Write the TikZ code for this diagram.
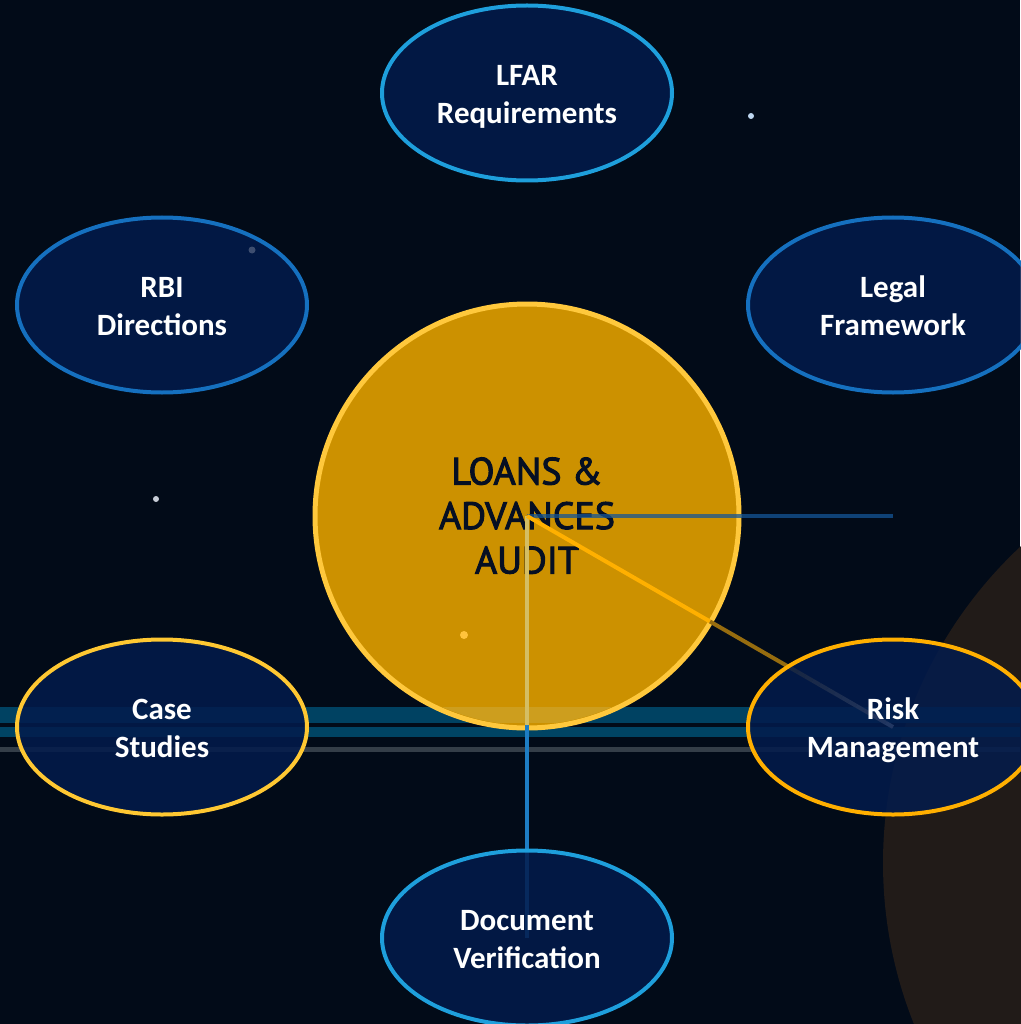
\documentclass[tikz,border=0pt]{standalone}
\usepackage{fontspec}
\setmainfont{Carlito}
\newfontfamily\titlefont[FakeBold=2.6]{PT Sans}
\usetikzlibrary{shapes.geometric,calc}

% palette
\definecolor{bgc}{RGB}{2,11,24}
\definecolor{glowc}{RGB}{33,27,24}
\definecolor{bandA}{RGB}{0,66,98}
\definecolor{bandB}{RGB}{0,68,100}
\definecolor{bandG}{RGB}{52,62,72}
\definecolor{bandlit}{RGB}{205,158,30}
\definecolor{hubfill}{RGB}{204,145,0}
\definecolor{hubline}{RGB}{255,200,60}
\definecolor{hubtext}{RGB}{5,15,35}
\definecolor{ellfill}{RGB}{3,27,76}
\definecolor{blueA}{RGB}{30,159,220}
\definecolor{blueB}{RGB}{21,112,191}
\definecolor{yelC}{RGB}{255,200,50}
\definecolor{orgR}{RGB}{255,175,0}
\definecolor{hcol}{RGB}{20,85,150}
\definecolor{vcol}{RGB}{30,125,195}
\definecolor{vpale}{RGB}{212,190,100}
\definecolor{dorange}{RGB}{255,176,0}
\definecolor{dbrown}{RGB}{150,108,15}
\definecolor{dgray}{RGB}{215,215,225}
\definecolor{speckA}{RGB}{190,215,240}
\definecolor{speckB}{RGB}{200,205,215}
\definecolor{speckC}{RGB}{62,78,112}
\definecolor{speckD}{RGB}{255,195,60}

\pgfdeclarelayer{bg}
\pgfdeclarelayer{core}
\pgfdeclarelayer{mid}
\pgfsetlayers{bg,core,mid,main}

\tikzset{
  topic/.style={ellipse, minimum width=290pt, minimum height=175pt, inner sep=0pt,
    line width=4pt, fill=ellfill, fill opacity=0.85, text opacity=1, text=white,
    font=\bfseries\fontsize{31}{38}\selectfont, align=center,
    text height=66pt, text depth=5pt},
  hub/.style={circle, minimum size=424pt, inner sep=0pt, fill=hubfill, draw=hubline,
    line width=5pt, text=hubtext, font=\titlefont\fontsize{38}{44.5}\selectfont,
    align=center, text height=117pt, text depth=2pt},
  hconn/.style={draw=hcol, draw opacity=0.75, line width=4pt},
  vconn/.style={draw=vcol, line width=4pt},
  dconn/.style={line width=4pt}
}

\begin{document}
\begin{tikzpicture}[x=1pt,y=-1pt]
\useasboundingbox (0,0) rectangle (1020,1024);

% backdrop, glow and horizontal bands
\begin{pgfonlayer}{bg}
  \fill[bgc] (0,0) rectangle (1020,1024);
  \fill[glowc] (1316,863) circle[radius=433pt];
  \fill[bandA] (0,707) rectangle (1020,723);
  \fill[bandB] (0,727) rectangle (1020,737);
  \fill[bandG] (0,747) rectangle (1020,752);
  \fill[speckA] (751,116) circle[radius=3pt];
  \fill[speckB] (156,499) circle[radius=3pt];
\end{pgfonlayer}

% central topic
\begin{pgfonlayer}{core}
  \node[hub] (c) at (527,516) {LOANS \&\\ADVANCES\\AUDIT};
  \begin{scope}
    \clip (c.center) circle[radius=209pt];
    \fill[bandlit] (0,707) rectangle (1020,723);
  \end{scope}
\end{pgfonlayer}

% surrounding topics
\node[topic, draw=blueA] (lfar)  at (527,93)  {LFAR\\Requirements};
\node[topic, draw=blueB] (rbi)   at (162,305) {RBI\\Directions};
\node[topic, draw=blueB] (legal) at (893,305) {Legal\\Framework};
\node[topic, draw=yelC]  (case)  at (162,727) {Case\\Studies};
\node[topic, draw=orgR]  (risk)  at (893,727) {Risk\\Management};
\node[topic, draw=blueA] (doc)   at (527,938) {Document\\Verification};

\fill[speckC] (252,250) circle[radius=3.5pt];
\fill[speckD] (464,635) circle[radius=4pt];

% connectors
\begin{pgfonlayer}{mid}
  \coordinate (hend) at (893,516);
  \draw[hconn] (c.center) -- (hend);
  \draw[vconn] (c.center) -- (doc.center);
  \begin{scope}
    \clip (c.center) circle[radius=209pt];
    \draw[vconn, draw=vpale] (c.center) -- (doc.center);
  \end{scope}
  \draw[dconn, draw=dorange] (c.center) -- ($(c.center)!0.5!(risk.center)$);
  \draw[dconn, draw=dbrown] ($(c.center)!0.5!(risk.center)$) -- ($(c.center)!0.72!(risk.center)$);
  \foreach \k in {0,...,13} {
    \pgfmathsetmacro\ta{0.72+0.02*\k}
    \pgfmathsetmacro\tb{0.72+0.02*(\k+1)}
    \pgfmathtruncatemacro\p{100*\k/13}
    \draw[dconn, draw=dgray!\p!dbrown] ($(c.center)!\ta!(risk.center)$) -- ($(c.center)!\tb!(risk.center)$);
  }
\end{pgfonlayer}
\end{tikzpicture}
\end{document}
